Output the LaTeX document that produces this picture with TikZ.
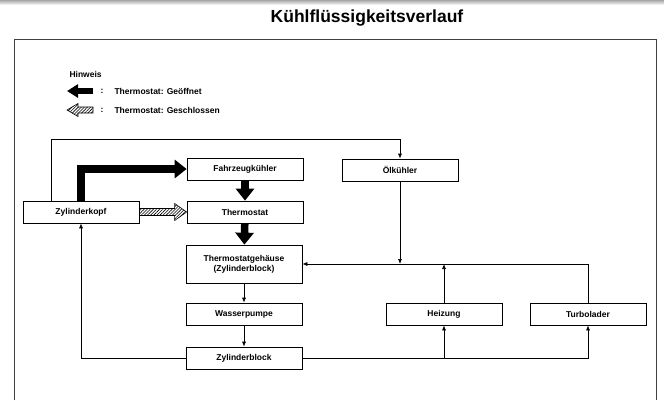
\documentclass[tikz,border=0pt]{standalone}
\usepackage{fontspec}
\setmainfont{Liberation Sans}
\usetikzlibrary{arrows.meta,patterns.meta,calc}

\begin{document}
\begin{tikzpicture}[x=1pt,y=-1pt,
  every node/.style={font=\bfseries\fontsize{8.5}{10}\selectfont},
  kasten/.style={draw,line width=0.7pt,minimum width=116pt,minimum height=22pt,inner sep=1pt,align=center},
  fluss/.style={line width=0.7pt,-{Latex[length=5pt,width=4pt]}},
  dick/.style={line width=7.5pt,-{Triangle[length=12pt,width=18pt]}},
  dickklein/.style={line width=6pt,-{Triangle[length=11pt,width=13pt]}},
  schraff/.style={draw,line width=0.6pt,pattern={Lines[angle=45,distance=2.2pt,line width=0.6pt]}}]

\useasboundingbox (0,0) rectangle (664,400);

% bandeau et cadre
\shade[top color=gray!70,bottom color=white] (0,0) rectangle (664,5);
\node[font=\bfseries\fontsize{17.5}{20}\selectfont] (titel) at (367,18) {Kühlflüssigkeitsverlauf};
\draw[line width=0.9pt,black!75] (14,400) -- (14,39) -- (656,39) -- (656,400);

% legende
\node[anchor=west] (hinweis) at (66,74) {Hinweis};
\coordinate (offen) at (93,91);
\coordinate (offenspitze) at (67,91);
\draw[dickklein] (offen) -- (offenspitze);
\node[anchor=west] (doppel1) at (97,91) {:};
\node[anchor=west] (offentext) at (111,91) {Thermostat: Geöffnet};
\coordinate (zu) at (93,110);
\coordinate (zuspitze) at (67,110);
\draw[schraff] ($(zu)+(0,-3)$) -- ($(zuspitze)+(11,-3)$) -- ($(zuspitze)+(11,-6.5)$) -- (zuspitze)
  -- ($(zuspitze)+(11,6.5)$) -- ($(zuspitze)+(11,3)$) -- ($(zu)+(0,3)$) -- cycle;
\node[anchor=west] (doppel2) at (97,110) {:};
\node[anchor=west] (zutext) at (111,110) {Thermostat: Geschlossen};

% les boites
\node[kasten] (kopf) at (81,212) {Zylinderkopf};
\node[kasten] (kuehler) at (245,169) {Fahrzeugkühler};
\node[kasten] (thermo) at (245,212) {Thermostat};
\node[kasten,minimum height=38pt] (gehaeuse) at (244,264) {Thermostatgehäuse\\(Zylinderblock)};
\node[kasten] (pumpe) at (244,314) {Wasserpumpe};
\node[kasten] (block) at (244,358) {Zylinderblock};
\node[kasten] (oel) at (400,170) {Ölkühler};
\node[kasten] (heizung) at (444,314) {Heizung};
\node[kasten] (turbo) at (588,314) {Turbolader};

% thermostat ouvert
\draw[dick] (kopf.north) |- (kuehler.west);
\draw[dick] (kuehler) -- (thermo);
\draw[dick] (thermo) -- (gehaeuse);

% thermostat ferme
\draw[schraff] ($(kopf.east)+(0,-3.5)$) -- ($(thermo.west)+(-12,-3.5)$) -- ($(thermo.west)+(-12,-8.5)$)
  -- (thermo.west) -- ($(thermo.west)+(-12,8.5)$) -- ($(thermo.west)+(-12,3.5)$) -- ($(kopf.east)+(0,3.5)$) -- cycle;

% circuits fins
\draw[fluss] ([xshift=-30pt]kopf.north) -- ++(0,-61) -| (oel.north);
\draw[fluss] (gehaeuse) -- (pumpe);
\draw[fluss] (pumpe) -- (block);
\draw[fluss] (block.west) -| (kopf.south);
\draw[fluss] (block.east) -| (turbo.south);
\draw[fluss] (heizung.south |- block.east) -- (heizung.south);
\draw[fluss] (turbo.north) |- (gehaeuse.east);
\draw[fluss] (heizung.north) -- (heizung.north |- gehaeuse.east);
\draw[fluss] (oel.south) -- (oel.south |- gehaeuse.east);

\end{tikzpicture}
\end{document}
